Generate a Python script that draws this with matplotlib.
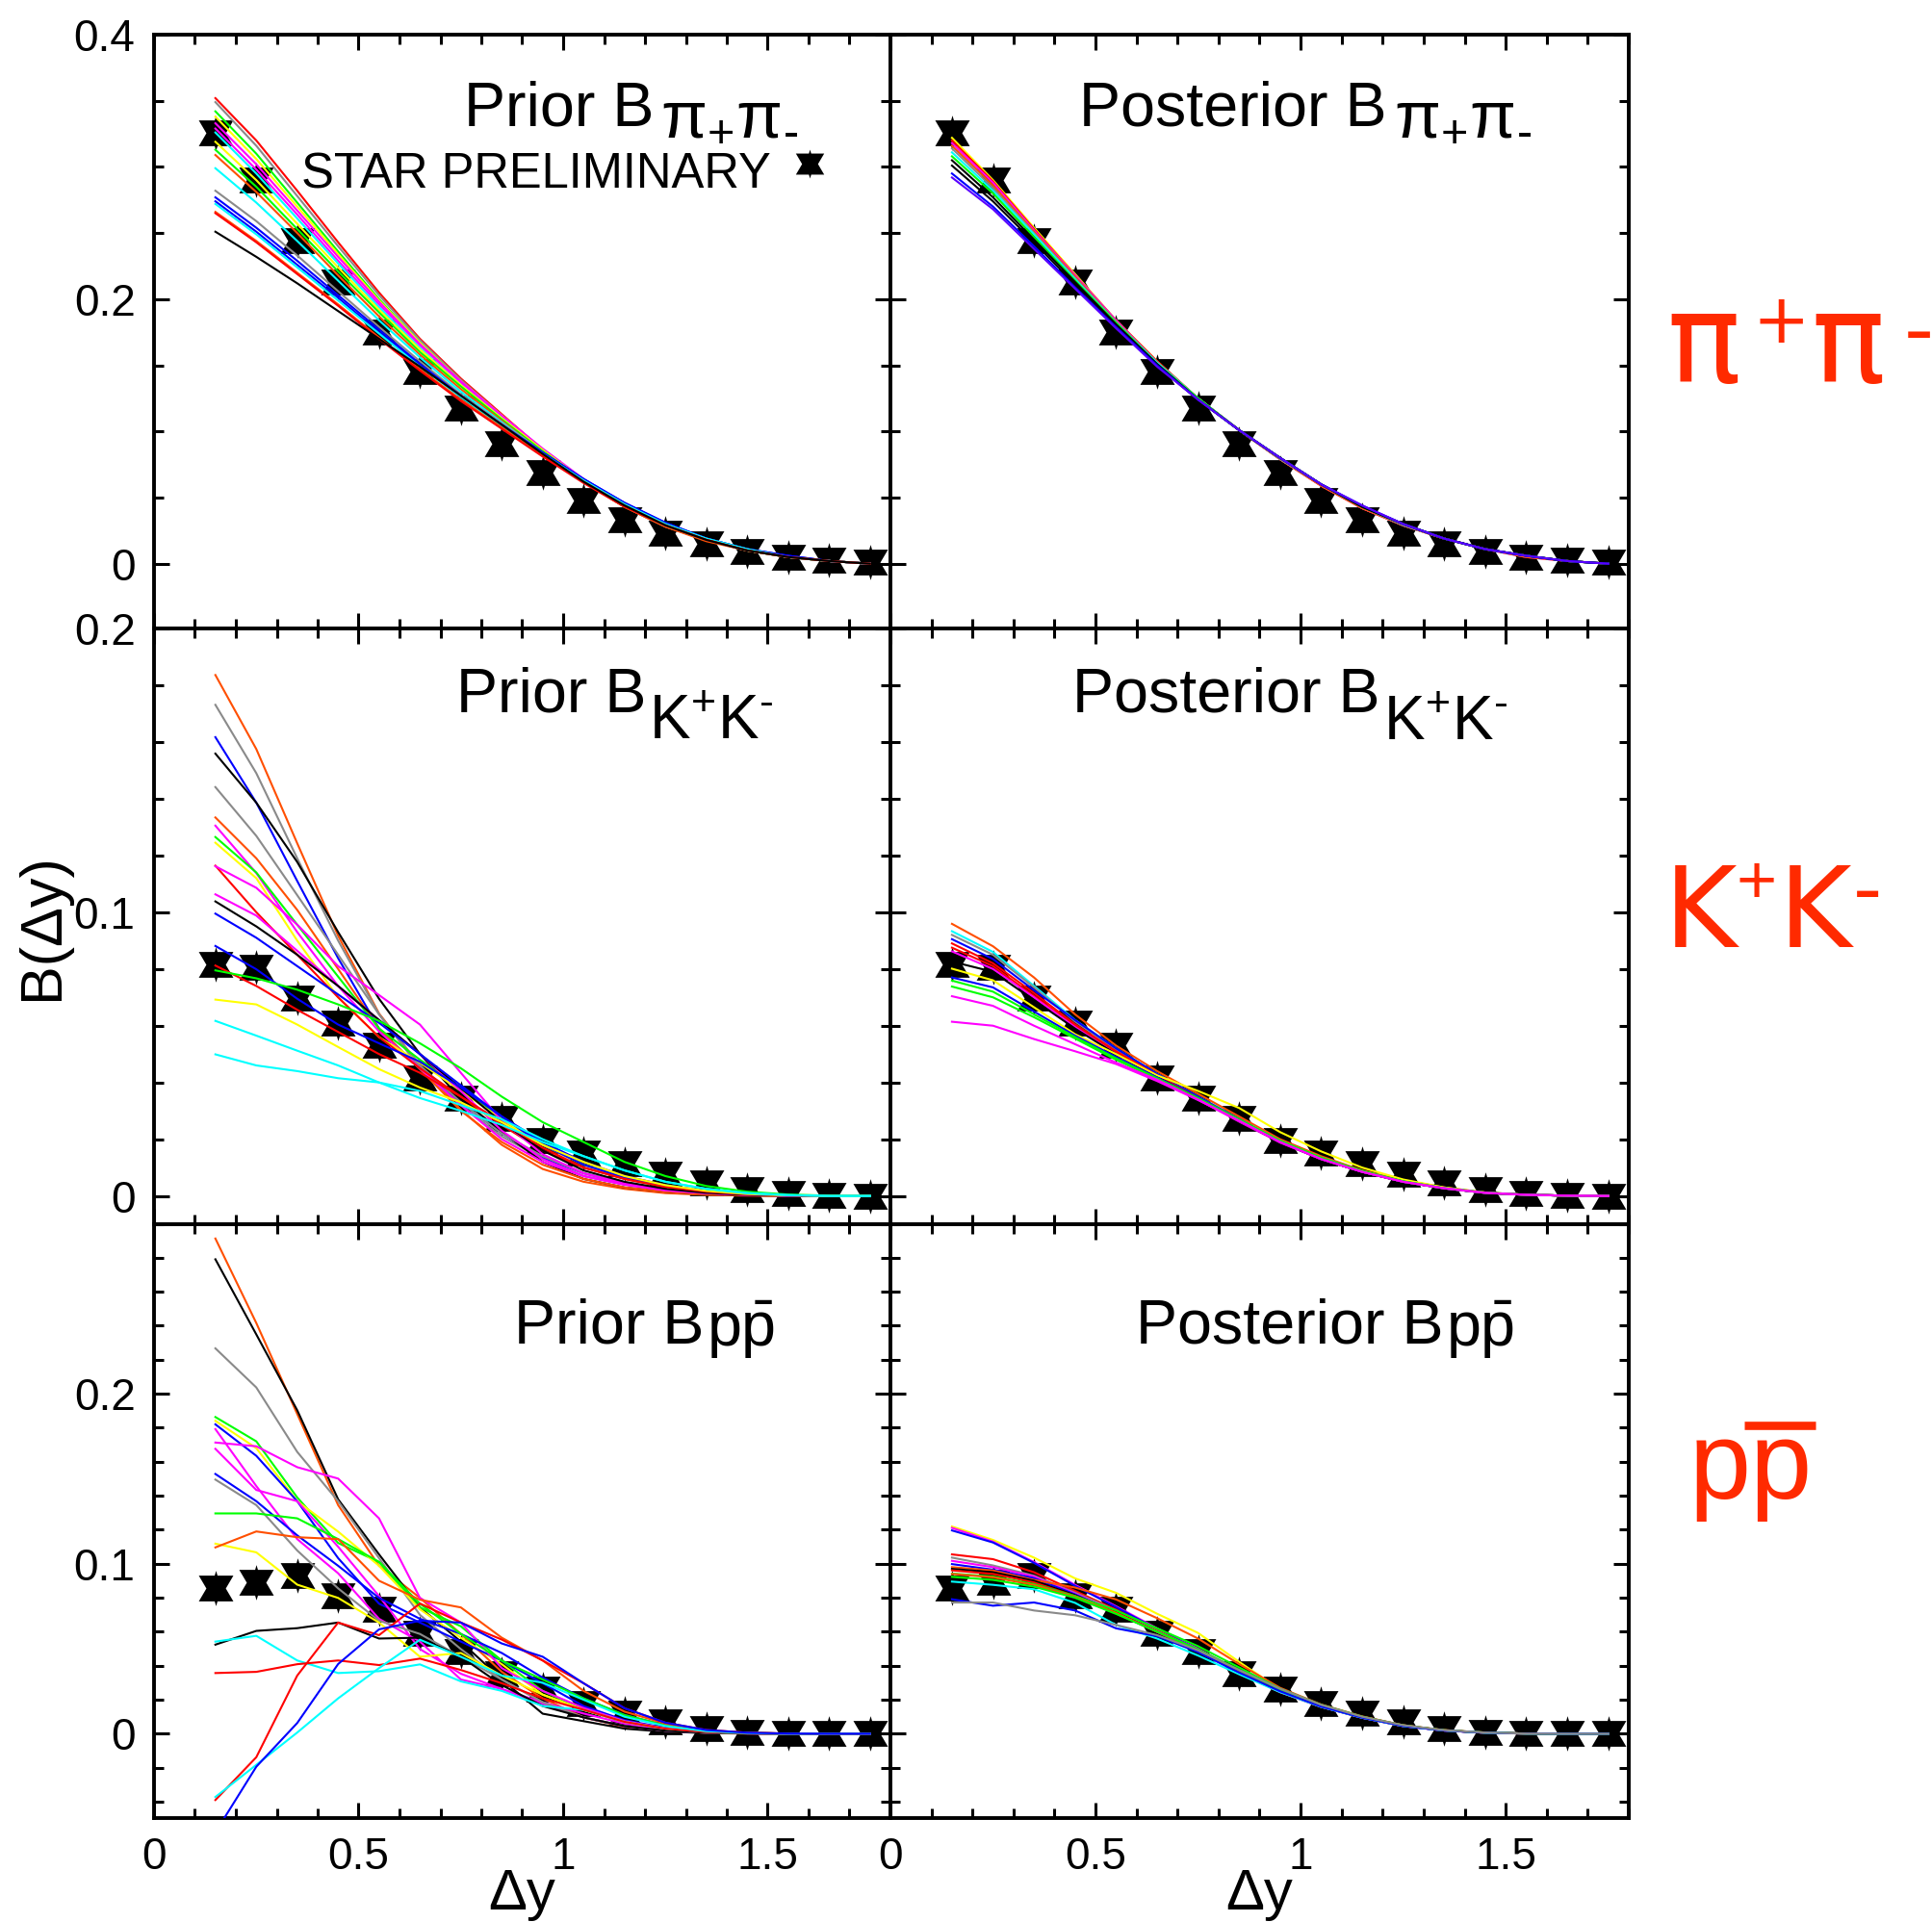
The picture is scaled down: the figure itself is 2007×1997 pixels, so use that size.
import numpy as np
import matplotlib
matplotlib.use("Agg")
import matplotlib.pyplot as plt
from matplotlib.lines import Line2D
from matplotlib.path import Path
from matplotlib.ticker import FixedLocator, FuncFormatter, MultipleLocator

# rapidity gaps at which the balance function is sampled
DY = [0.15, 0.25, 0.35, 0.45, 0.55, 0.65, 0.75, 0.85, 0.95,
      1.05, 1.15, 1.25, 1.35, 1.45, 1.55, 1.65, 1.75]

# STAR preliminary balance functions
STAR_PIPI = [0.326, 0.290, 0.244, 0.213, 0.175, 0.145, 0.118, 0.091, 0.069,
             0.048, 0.033, 0.023, 0.015, 0.009, 0.005, 0.003, 0.001]
STAR_KK = [0.0817, 0.0806, 0.0696, 0.0610, 0.0530, 0.0417, 0.0346, 0.0274, 0.0196,
           0.0153, 0.0114, 0.0077, 0.0046, 0.0024, 0.0010, 0.0003, 0.0]
STAR_PP = [0.0856, 0.0889, 0.0932, 0.0814, 0.0733, 0.0592, 0.0482, 0.0355, 0.0260,
           0.0178, 0.0120, 0.0070, 0.0032, 0.0008, 0.0002, 0.0, 0.0]

# model runs sampled from the prior
PIPI_PRIOR = [
    [0.352, 0.320, 0.282, 0.243, 0.205, 0.170, 0.140, 0.113, 0.086, 0.062, 0.043, 0.028, 0.018, 0.010, 0.005, 0.002, 0.0],
    [0.349, 0.316, 0.278, 0.240, 0.203, 0.169, 0.139, 0.112, 0.086, 0.062, 0.043, 0.028, 0.018, 0.010, 0.005, 0.002, 0.0],
    [0.342, 0.310, 0.273, 0.236, 0.200, 0.167, 0.138, 0.111, 0.085, 0.062, 0.043, 0.029, 0.018, 0.010, 0.005, 0.002, 0.0],
    [0.338, 0.306, 0.270, 0.234, 0.199, 0.167, 0.138, 0.112, 0.086, 0.063, 0.044, 0.029, 0.018, 0.010, 0.005, 0.002, 0.0],
    [0.333, 0.302, 0.267, 0.232, 0.198, 0.166, 0.138, 0.112, 0.087, 0.064, 0.044, 0.029, 0.018, 0.010, 0.005, 0.002, 0.0],
    [0.329, 0.298, 0.264, 0.229, 0.196, 0.165, 0.137, 0.111, 0.086, 0.063, 0.044, 0.029, 0.018, 0.010, 0.005, 0.002, 0.0],
    [0.326, 0.295, 0.261, 0.227, 0.194, 0.163, 0.135, 0.110, 0.085, 0.063, 0.044, 0.029, 0.018, 0.010, 0.005, 0.002, 0.0],
    [0.319, 0.290, 0.257, 0.224, 0.192, 0.162, 0.135, 0.110, 0.086, 0.063, 0.044, 0.029, 0.018, 0.010, 0.005, 0.002, 0.0],
    [0.313, 0.285, 0.253, 0.221, 0.190, 0.160, 0.134, 0.109, 0.085, 0.063, 0.044, 0.029, 0.018, 0.010, 0.005, 0.002, 0.0],
    [0.309, 0.281, 0.250, 0.218, 0.187, 0.158, 0.132, 0.108, 0.084, 0.062, 0.043, 0.028, 0.017, 0.010, 0.005, 0.002, 0.0],
    [0.299, 0.273, 0.244, 0.214, 0.184, 0.156, 0.130, 0.107, 0.084, 0.063, 0.044, 0.029, 0.018, 0.010, 0.005, 0.002, 0.0],
    [0.282, 0.259, 0.233, 0.206, 0.179, 0.153, 0.128, 0.106, 0.084, 0.063, 0.045, 0.030, 0.019, 0.011, 0.005, 0.002, 0.0],
    [0.277, 0.254, 0.229, 0.203, 0.177, 0.151, 0.127, 0.105, 0.084, 0.064, 0.046, 0.031, 0.019, 0.011, 0.006, 0.002, 0.0],
    [0.274, 0.251, 0.226, 0.201, 0.175, 0.150, 0.126, 0.105, 0.084, 0.064, 0.046, 0.031, 0.019, 0.011, 0.006, 0.002, 0.0],
    [0.272, 0.249, 0.224, 0.199, 0.174, 0.149, 0.126, 0.104, 0.083, 0.063, 0.045, 0.030, 0.019, 0.011, 0.005, 0.002, 0.0],
    [0.266, 0.244, 0.220, 0.196, 0.171, 0.147, 0.124, 0.103, 0.082, 0.062, 0.044, 0.029, 0.018, 0.010, 0.005, 0.002, 0.0],
    [0.265, 0.243, 0.219, 0.195, 0.170, 0.146, 0.123, 0.102, 0.081, 0.061, 0.043, 0.029, 0.018, 0.010, 0.005, 0.002, 0.0],
    [0.251, 0.232, 0.212, 0.191, 0.170, 0.149, 0.127, 0.105, 0.083, 0.062, 0.044, 0.029, 0.018, 0.010, 0.005, 0.002, 0.0],
]
PIPI_PRIOR_COLORS = ["red", "gray", "green", "yellow", "magenta", "magenta", "cyan", "yellow", "green",
                     "orange", "cyan", "gray", "blue", "blue", "cyan", "orange", "red", "black"]

PIPI_POST = [
    [0.322, 0.290, 0.254, 0.219, 0.184, 0.153, 0.125, 0.101, 0.079, 0.059, 0.042, 0.029, 0.019, 0.011, 0.006, 0.002, 0.0],
    [0.320, 0.289, 0.253, 0.218, 0.184, 0.153, 0.125, 0.101, 0.079, 0.059, 0.042, 0.029, 0.019, 0.011, 0.006, 0.002, 0.0],
    [0.318, 0.288, 0.252, 0.218, 0.184, 0.152, 0.125, 0.101, 0.079, 0.059, 0.042, 0.029, 0.019, 0.011, 0.005, 0.002, 0.0],
    [0.316, 0.286, 0.251, 0.217, 0.183, 0.152, 0.125, 0.101, 0.079, 0.059, 0.042, 0.029, 0.019, 0.011, 0.005, 0.002, 0.0],
    [0.314, 0.284, 0.250, 0.216, 0.183, 0.152, 0.125, 0.101, 0.079, 0.060, 0.043, 0.029, 0.019, 0.011, 0.006, 0.002, 0.0],
    [0.311, 0.282, 0.249, 0.215, 0.182, 0.152, 0.125, 0.101, 0.080, 0.060, 0.043, 0.030, 0.019, 0.011, 0.006, 0.002, 0.0],
    [0.308, 0.280, 0.247, 0.214, 0.182, 0.151, 0.125, 0.101, 0.080, 0.060, 0.043, 0.030, 0.019, 0.011, 0.006, 0.002, 0.0],
    [0.305, 0.277, 0.245, 0.213, 0.181, 0.151, 0.124, 0.101, 0.080, 0.060, 0.043, 0.030, 0.019, 0.011, 0.006, 0.002, 0.0],
    [0.301, 0.274, 0.243, 0.211, 0.180, 0.150, 0.124, 0.101, 0.080, 0.060, 0.043, 0.030, 0.019, 0.011, 0.006, 0.002, 0.0],
    [0.295, 0.270, 0.240, 0.209, 0.179, 0.150, 0.124, 0.101, 0.080, 0.060, 0.044, 0.030, 0.019, 0.011, 0.006, 0.002, 0.0],
    [0.292, 0.268, 0.238, 0.208, 0.178, 0.149, 0.124, 0.101, 0.080, 0.060, 0.044, 0.030, 0.019, 0.011, 0.006, 0.002, 0.0],
]
PIPI_POST_COLORS = ["yellow", "red", "magenta", "orange", "gray", "cyan", "green", "black", "black",
                    "blue", "purple"]

KK_PRIOR = [
    [0.1836, 0.1575, 0.1243, 0.0917, 0.0643, 0.0460, 0.0304, 0.0180, 0.0095, 0.0050, 0.0025, 0.0010, 0.0004, 0.0001, 0.0, 0.0, 0.0],
    [0.1731, 0.1490, 0.1190, 0.0900, 0.0640, 0.0450, 0.0320, 0.0210, 0.0130, 0.0070, 0.0040, 0.0020, 0.0010, 0.0004, 0.0001, 0.0, 0.0],
    [0.1617, 0.1386, 0.1110, 0.0838, 0.0590, 0.0447, 0.0330, 0.0220, 0.0135, 0.0080, 0.0045, 0.0022, 0.0010, 0.0004, 0.0001, 0.0, 0.0],
    [0.1559, 0.1386, 0.1177, 0.0930, 0.0695, 0.0500, 0.0343, 0.0226, 0.0120, 0.0060, 0.0030, 0.0015, 0.0006, 0.0002, 0.0, 0.0, 0.0],
    [0.1441, 0.1269, 0.1060, 0.0850, 0.0640, 0.0460, 0.0330, 0.0220, 0.0140, 0.0080, 0.0045, 0.0022, 0.0010, 0.0004, 0.0001, 0.0, 0.0],
    [0.1334, 0.1190, 0.1008, 0.0800, 0.0590, 0.0447, 0.0300, 0.0190, 0.0110, 0.0060, 0.0030, 0.0015, 0.0006, 0.0002, 0.0, 0.0, 0.0],
    [0.1305, 0.1138, 0.0930, 0.0740, 0.0580, 0.0450, 0.0320, 0.0200, 0.0120, 0.0070, 0.0040, 0.0020, 0.0010, 0.0004, 0.0001, 0.0, 0.0],
    [0.1265, 0.1140, 0.0956, 0.0773, 0.0590, 0.0480, 0.0380, 0.0270, 0.0180, 0.0110, 0.0065, 0.0035, 0.0016, 0.0006, 0.0002, 0.0, 0.0],
    [0.1245, 0.1120, 0.0900, 0.0700, 0.0560, 0.0470, 0.0370, 0.0270, 0.0180, 0.0110, 0.0065, 0.0035, 0.0016, 0.0006, 0.0002, 0.0, 0.0],
    [0.1164, 0.1000, 0.0850, 0.0700, 0.0560, 0.0450, 0.0350, 0.0250, 0.0160, 0.0100, 0.0060, 0.0032, 0.0015, 0.0006, 0.0002, 0.0, 0.0],
    [0.1162, 0.1086, 0.0956, 0.0810, 0.0708, 0.0604, 0.0434, 0.0265, 0.0147, 0.0080, 0.0045, 0.0022, 0.0010, 0.0004, 0.0001, 0.0, 0.0],
    [0.1063, 0.0988, 0.0864, 0.0740, 0.0620, 0.0500, 0.0370, 0.0230, 0.0130, 0.0070, 0.0040, 0.0020, 0.0010, 0.0004, 0.0001, 0.0, 0.0],
    [0.1038, 0.0950, 0.0850, 0.0740, 0.0620, 0.0500, 0.0380, 0.0260, 0.0160, 0.0090, 0.0050, 0.0025, 0.0011, 0.0004, 0.0001, 0.0, 0.0],
    [0.0995, 0.0910, 0.0810, 0.0710, 0.0610, 0.0500, 0.0390, 0.0280, 0.0180, 0.0110, 0.0065, 0.0035, 0.0016, 0.0006, 0.0002, 0.0, 0.0],
    [0.0881, 0.0799, 0.0695, 0.0604, 0.0538, 0.0473, 0.0382, 0.0280, 0.0190, 0.0120, 0.0070, 0.0038, 0.0018, 0.0007, 0.0002, 0.0, 0.0],
    [0.0812, 0.0740, 0.0656, 0.0578, 0.0500, 0.0434, 0.0350, 0.0260, 0.0170, 0.0100, 0.0060, 0.0032, 0.0015, 0.0006, 0.0002, 0.0, 0.0],
    [0.0795, 0.0767, 0.0727, 0.0675, 0.0617, 0.0538, 0.0450, 0.0350, 0.0260, 0.0190, 0.0120, 0.0070, 0.0035, 0.0015, 0.0005, 0.0001, 0.0],
    [0.0692, 0.0675, 0.0604, 0.0525, 0.0447, 0.0382, 0.0330, 0.0260, 0.0180, 0.0120, 0.0070, 0.0038, 0.0018, 0.0007, 0.0002, 0.0, 0.0],
    [0.0617, 0.0565, 0.0512, 0.0460, 0.0400, 0.0345, 0.0300, 0.0250, 0.0190, 0.0140, 0.0090, 0.0050, 0.0025, 0.0010, 0.0003, 0.0, 0.0],
    [0.0499, 0.0460, 0.0440, 0.0415, 0.0400, 0.0370, 0.0320, 0.0270, 0.0200, 0.0140, 0.0090, 0.0050, 0.0025, 0.0010, 0.0003, 0.0, 0.0],
]
KK_PRIOR_COLORS = ["orange", "gray", "blue", "black", "gray", "orange", "magenta", "green", "yellow",
                   "red", "magenta", "magenta", "black", "blue", "blue", "red", "green", "yellow",
                   "cyan", "cyan"]

KK_POST = [
    [0.0959, 0.0880, 0.0770, 0.0640, 0.0530, 0.0440, 0.0360, 0.0280, 0.0200, 0.0140, 0.0090, 0.0055, 0.0030, 0.0012, 0.0004, 0.0001, 0.0],
    [0.0933, 0.0860, 0.0740, 0.0620, 0.0520, 0.0430, 0.0350, 0.0270, 0.0190, 0.0130, 0.0085, 0.0050, 0.0027, 0.0011, 0.0004, 0.0001, 0.0],
    [0.0920, 0.0850, 0.0735, 0.0615, 0.0515, 0.0430, 0.0350, 0.0272, 0.0195, 0.0135, 0.0088, 0.0052, 0.0028, 0.0012, 0.0004, 0.0001, 0.0],
    [0.0905, 0.0835, 0.0725, 0.0620, 0.0520, 0.0430, 0.0350, 0.0270, 0.0190, 0.0130, 0.0085, 0.0050, 0.0027, 0.0011, 0.0004, 0.0001, 0.0],
    [0.0890, 0.0820, 0.0715, 0.0605, 0.0510, 0.0425, 0.0345, 0.0268, 0.0192, 0.0132, 0.0086, 0.0051, 0.0027, 0.0011, 0.0004, 0.0001, 0.0],
    [0.0875, 0.0810, 0.0705, 0.0600, 0.0505, 0.0420, 0.0342, 0.0265, 0.0190, 0.0130, 0.0085, 0.0050, 0.0027, 0.0011, 0.0004, 0.0001, 0.0],
    [0.0862, 0.0800, 0.0700, 0.0595, 0.0500, 0.0418, 0.0340, 0.0262, 0.0188, 0.0130, 0.0085, 0.0050, 0.0027, 0.0011, 0.0004, 0.0001, 0.0],
    [0.0826, 0.0790, 0.0690, 0.0590, 0.0500, 0.0420, 0.0342, 0.0265, 0.0190, 0.0130, 0.0085, 0.0050, 0.0027, 0.0011, 0.0004, 0.0001, 0.0],
    [0.0801, 0.0760, 0.0665, 0.0570, 0.0500, 0.0425, 0.0370, 0.0310, 0.0225, 0.0157, 0.0100, 0.0058, 0.0030, 0.0012, 0.0004, 0.0001, 0.0],
    [0.0770, 0.0735, 0.0650, 0.0565, 0.0490, 0.0418, 0.0345, 0.0268, 0.0192, 0.0132, 0.0086, 0.0051, 0.0027, 0.0011, 0.0004, 0.0001, 0.0],
    [0.0759, 0.0720, 0.0640, 0.0560, 0.0485, 0.0415, 0.0345, 0.0270, 0.0195, 0.0135, 0.0088, 0.0052, 0.0028, 0.0012, 0.0004, 0.0001, 0.0],
    [0.0738, 0.0700, 0.0630, 0.0555, 0.0480, 0.0412, 0.0342, 0.0268, 0.0193, 0.0133, 0.0087, 0.0051, 0.0027, 0.0011, 0.0004, 0.0001, 0.0],
    [0.0704, 0.0670, 0.0600, 0.0535, 0.0470, 0.0410, 0.0340, 0.0265, 0.0190, 0.0130, 0.0085, 0.0050, 0.0027, 0.0011, 0.0004, 0.0001, 0.0],
    [0.0614, 0.0600, 0.0553, 0.0510, 0.0465, 0.0405, 0.0338, 0.0265, 0.0190, 0.0130, 0.0085, 0.0050, 0.0027, 0.0011, 0.0004, 0.0001, 0.0],
]
KK_POST_COLORS = ["orange", "cyan", "gray", "blue", "red", "red", "magenta", "black", "yellow",
                  "blue", "green", "green", "magenta", "magenta"]

PP_PRIOR = [
    [0.2913, 0.2416, 0.1881, 0.1345, 0.0988, 0.0799, 0.0587, 0.0364, 0.0208, 0.0096, 0.0040, 0.0015, 0.0005, 0.0001, 0.0, 0.0, 0.0],
    [0.2791, 0.2349, 0.1903, 0.1379, 0.1055, 0.0743, 0.0542, 0.0319, 0.0118, 0.0074, 0.0030, 0.0012, 0.0004, 0.0001, 0.0, 0.0, 0.0],
    [0.2267, 0.2037, 0.1658, 0.1368, 0.1033, 0.0699, 0.0498, 0.0319, 0.0185, 0.0096, 0.0045, 0.0018, 0.0006, 0.0002, 0.0, 0.0, 0.0],
    [0.1863, 0.1720, 0.1390, 0.1122, 0.1010, 0.0743, 0.0632, 0.0430, 0.0252, 0.0140, 0.0070, 0.0030, 0.0010, 0.0003, 0.0, 0.0, 0.0],
    [0.1841, 0.1680, 0.1368, 0.1189, 0.0988, 0.0732, 0.0565, 0.0409, 0.0230, 0.0140, 0.0070, 0.0030, 0.0010, 0.0003, 0.0, 0.0, 0.0],
    [0.1820, 0.1635, 0.1368, 0.1033, 0.0765, 0.0654, 0.0542, 0.0430, 0.0297, 0.0163, 0.0080, 0.0035, 0.0012, 0.0003, 0.0, 0.0, 0.0],
    [0.1792, 0.1457, 0.1145, 0.0944, 0.0676, 0.0542, 0.0319, 0.0263, 0.0174, 0.0096, 0.0045, 0.0018, 0.0006, 0.0002, 0.0, 0.0, 0.0],
    [0.1713, 0.1691, 0.1568, 0.1501, 0.1267, 0.0799, 0.0654, 0.0386, 0.0252, 0.0152, 0.0075, 0.0032, 0.0011, 0.0003, 0.0, 0.0, 0.0],
    [0.1676, 0.1434, 0.1368, 0.1100, 0.0810, 0.0498, 0.0353, 0.0263, 0.0185, 0.0119, 0.0060, 0.0025, 0.0009, 0.0002, 0.0, 0.0, 0.0],
    [0.1528, 0.1368, 0.1167, 0.0988, 0.0799, 0.0676, 0.0587, 0.0475, 0.0330, 0.0208, 0.0110, 0.0050, 0.0018, 0.0005, 0.0001, 0.0, 0.0],
    [0.1495, 0.1345, 0.1078, 0.0855, 0.0665, 0.0587, 0.0453, 0.0319, 0.0185, 0.0096, 0.0045, 0.0018, 0.0006, 0.0002, 0.0, 0.0, 0.0],
    [0.1296, 0.1296, 0.1267, 0.1145, 0.1011, 0.0765, 0.0587, 0.0430, 0.0319, 0.0208, 0.0110, 0.0050, 0.0018, 0.0005, 0.0001, 0.0, 0.0],
    [0.1118, 0.1067, 0.0877, 0.0799, 0.0654, 0.0453, 0.0475, 0.0342, 0.0230, 0.0140, 0.0070, 0.0030, 0.0010, 0.0003, 0.0, 0.0, 0.0],
    [0.1096, 0.1190, 0.1156, 0.1145, 0.0900, 0.0788, 0.0743, 0.0565, 0.0431, 0.0252, 0.0130, 0.0060, 0.0020, 0.0006, 0.0001, 0.0, 0.0],
    [0.0524, 0.0605, 0.0621, 0.0654, 0.0560, 0.0565, 0.0453, 0.0286, 0.0163, 0.0096, 0.0045, 0.0018, 0.0006, 0.0002, 0.0, 0.0, 0.0],
    [0.0542, 0.0576, 0.0431, 0.0357, 0.0368, 0.0408, 0.0308, 0.0252, 0.0163, 0.0140, 0.0070, 0.0030, 0.0010, 0.0003, 0.0, 0.0, 0.0],
    [0.0357, 0.0364, 0.0409, 0.0431, 0.0404, 0.0442, 0.0375, 0.0297, 0.0208, 0.0141, 0.0070, 0.0030, 0.0010, 0.0003, 0.0, 0.0, 0.0],
    [-0.0390, -0.0138, 0.0342, 0.0654, 0.0580, 0.0766, 0.0654, 0.0554, 0.0431, 0.0297, 0.0150, 0.0065, 0.0022, 0.0006, 0.0001, 0.0, 0.0],
    [-0.0372, -0.0183, 0.0007, 0.0208, 0.0386, 0.0553, 0.0453, 0.0342, 0.0300, 0.0200, 0.0100, 0.0045, 0.0015, 0.0004, 0.0, 0.0, 0.0],
    [-0.0580, -0.0194, 0.0063, 0.0410, 0.0614, 0.0665, 0.0654, 0.0531, 0.0453, 0.0297, 0.0150, 0.0065, 0.0022, 0.0006, 0.0001, 0.0, 0.0],
]
PP_PRIOR_COLORS = ["orange", "black", "gray", "green", "yellow", "blue", "magenta", "magenta", "magenta",
                   "blue", "gray", "green", "yellow", "orange", "black", "cyan", "red", "red",
                   "cyan", "blue"]

PP_POST = [
    [0.1219, 0.1140, 0.1036, 0.0914, 0.0829, 0.0706, 0.0593, 0.0423, 0.0260, 0.0165, 0.0098, 0.0048, 0.0020, 0.0006, 0.0001, 0.0, 0.0],
    [0.1211, 0.1130, 0.1010, 0.0876, 0.0750, 0.0620, 0.0500, 0.0370, 0.0250, 0.0160, 0.0095, 0.0046, 0.0019, 0.0006, 0.0001, 0.0, 0.0],
    [0.1196, 0.1125, 0.1005, 0.0870, 0.0745, 0.0615, 0.0495, 0.0365, 0.0250, 0.0160, 0.0095, 0.0046, 0.0019, 0.0006, 0.0001, 0.0, 0.0],
    [0.1055, 0.1027, 0.0950, 0.0840, 0.0730, 0.0610, 0.0490, 0.0360, 0.0245, 0.0158, 0.0094, 0.0045, 0.0019, 0.0006, 0.0001, 0.0, 0.0],
    [0.1036, 0.0990, 0.0930, 0.0830, 0.0725, 0.0605, 0.0495, 0.0375, 0.0262, 0.0170, 0.0100, 0.0050, 0.0021, 0.0007, 0.0001, 0.0, 0.0],
    [0.1017, 0.0980, 0.0925, 0.0825, 0.0715, 0.0600, 0.0485, 0.0360, 0.0245, 0.0158, 0.0094, 0.0045, 0.0019, 0.0006, 0.0001, 0.0, 0.0],
    [0.0998, 0.0965, 0.0915, 0.0820, 0.0710, 0.0600, 0.0485, 0.0360, 0.0248, 0.0160, 0.0095, 0.0046, 0.0019, 0.0006, 0.0001, 0.0, 0.0],
    [0.0980, 0.0960, 0.0905, 0.0860, 0.0790, 0.0680, 0.0560, 0.0410, 0.0270, 0.0172, 0.0102, 0.0050, 0.0021, 0.0007, 0.0001, 0.0, 0.0],
    [0.0970, 0.0950, 0.0900, 0.0815, 0.0715, 0.0600, 0.0490, 0.0365, 0.0252, 0.0162, 0.0096, 0.0047, 0.0020, 0.0006, 0.0001, 0.0, 0.0],
    [0.0961, 0.0940, 0.0890, 0.0810, 0.0712, 0.0600, 0.0490, 0.0368, 0.0255, 0.0164, 0.0097, 0.0047, 0.0020, 0.0006, 0.0001, 0.0, 0.0],
    [0.0942, 0.0925, 0.0880, 0.0810, 0.0725, 0.0620, 0.0515, 0.0390, 0.0265, 0.0170, 0.0100, 0.0049, 0.0020, 0.0007, 0.0001, 0.0, 0.0],
    [0.0940, 0.0920, 0.0875, 0.0805, 0.0710, 0.0600, 0.0490, 0.0370, 0.0258, 0.0166, 0.0098, 0.0048, 0.0020, 0.0006, 0.0001, 0.0, 0.0],
    [0.0923, 0.0905, 0.0865, 0.0800, 0.0705, 0.0600, 0.0495, 0.0375, 0.0260, 0.0168, 0.0099, 0.0048, 0.0020, 0.0006, 0.0001, 0.0, 0.0],
    [0.0895, 0.0876, 0.0850, 0.0770, 0.0640, 0.0560, 0.0460, 0.0350, 0.0245, 0.0158, 0.0094, 0.0045, 0.0019, 0.0006, 0.0001, 0.0, 0.0],
    [0.0791, 0.0753, 0.0772, 0.0725, 0.0620, 0.0574, 0.0480, 0.0360, 0.0250, 0.0160, 0.0095, 0.0046, 0.0019, 0.0006, 0.0001, 0.0, 0.0],
    [0.0772, 0.0772, 0.0725, 0.0697, 0.0640, 0.0580, 0.0490, 0.0375, 0.0265, 0.0170, 0.0100, 0.0050, 0.0021, 0.0007, 0.0001, 0.0, 0.0],
]
PP_POST_COLORS = ["yellow", "magenta", "blue", "red", "gray", "magenta", "blue", "orange", "black",
                  "red", "green", "orange", "green", "cyan", "blue", "gray"]

PALETTE = {
    "red": "#ff0000", "orange": "#ff4f00", "black": "#000000", "gray": "#8a8a8a",
    "blue": "#0000ff", "cyan": "#00ffff", "green": "#00ff00", "yellow": "#ffff00",
    "magenta": "#ff00ff", "purple": "#5a00ff",
}
LABEL_RED = "#ff2a00"

# figure geometry in pixels
W_PX, H_PX, DPI = 2008, 1997, 100
COLS = [(160, 925), (925, 1692)]
ROWS = [(36, 653), (653, 1271.5), (1271.5, 1889)]


def fx(px):
    return px / W_PX


def fy(py):
    return 1 - py / H_PX


# six-pointed star marker: flat top and bottom with small spikes
_star = [(0, 1), (0.08, 0.73), (0.98, 0.73), (0.55, 0), (0.98, -0.73), (0.08, -0.73),
         (0, -1), (-0.08, -0.73), (-0.98, -0.73), (-0.55, 0), (-0.98, 0.73), (-0.08, 0.73)]
STAR_MARKER = Path(_star + [(0, 0)], [Path.MOVETO] + [Path.LINETO] * (len(_star) - 1) + [Path.CLOSEPOLY])

plt.rcParams["font.family"] = ["Liberation Sans", "DejaVu Sans"]
plt.rcParams["mathtext.fontset"] = "custom"
plt.rcParams["mathtext.rm"] = "Liberation Sans"
plt.rcParams["mathtext.it"] = "Liberation Sans:italic"
plt.rcParams["mathtext.bf"] = "Liberation Sans:bold"
plt.rcParams["mathtext.default"] = "regular"

TICK_FS = 33
HYPHEN = "\u00ad"
fmt = FuncFormatter(lambda v, pos: "%g" % round(v, 6))

row_setup = [
    (STAR_PIPI, PIPI_PRIOR, PIPI_PRIOR_COLORS, PIPI_POST, PIPI_POST_COLORS, (-0.049, 0.4), [0, 0.2, 0.4], 0.05),
    (STAR_KK, KK_PRIOR, KK_PRIOR_COLORS, KK_POST, KK_POST_COLORS, (-0.0098, 0.2), [0, 0.1, 0.2], 0.02),
    (STAR_PP, PP_PRIOR, PP_PRIOR_COLORS, PP_POST, PP_POST_COLORS, (-0.0496, 0.3), [0, 0.1, 0.2], 0.02),
]

fig = plt.figure(figsize=(W_PX / DPI, H_PX / DPI), dpi=DPI)

for r, (top, bot) in enumerate(ROWS):
    star, prior, prior_c, post, post_c, ylim, yticks, yminor = row_setup[r]
    for c, (left, right) in enumerate(COLS):
        ax = fig.add_axes([fx(left), fy(bot), (right - left) / W_PX, (bot - top) / H_PX])
        curves, colors = (prior, prior_c) if c == 0 else (post, post_c)
        ax.plot(DY, star, ls="none", marker=STAR_MARKER, ms=26.4, color="black",
                markeredgewidth=0, zorder=2)
        for vals, col in zip(curves, colors):
            ax.plot(DY, vals, color=PALETTE[col], lw=1.5, zorder=3)

        ax.set_xlim(0, 1.8)
        ax.set_ylim(*ylim)
        ax.xaxis.set_major_locator(FixedLocator([0, 0.5, 1.0, 1.5]))
        ax.xaxis.set_minor_locator(MultipleLocator(0.1))
        ax.yaxis.set_major_locator(FixedLocator(yticks))
        ax.yaxis.set_minor_locator(MultipleLocator(yminor))
        ax.xaxis.set_major_formatter(fmt)
        ax.yaxis.set_major_formatter(fmt)
        ax.tick_params(which="both", direction="in", top=True, right=True,
                       labelsize=TICK_FS, width=2.2, pad=14)
        ax.tick_params(which="major", length=11.5)
        ax.tick_params(which="minor", length=7)
        ax.tick_params(axis="x", labelbottom=(r == 2))
        ax.tick_params(axis="y", labelleft=(c == 0))
        for sp in ax.spines.values():
            sp.set_linewidth(2.8)
        if r == 0 and c == 0:
            legend_ax = ax

# panel titles: main part right-aligned on the B, species part set lower on the left
TITLE_FS = 46.5
pi_sub = "π$_{+}$π$_{" + HYPHEN + "}$"
k_sub = "K$^{+}$K$^{" + HYPHEN + "}$"
p_sub = r"p$\bar{\mathrm{p}}$"
titles = [
    ("Prior B", 679, 130, pi_sub, 50, 686, 139),
    ("Posterior B", 1440.5, 130, pi_sub, 50, 1448, 139),
    ("Prior B", 671.5, 739, k_sub, 46, 674, 768),
    ("Posterior B", 1434, 740, k_sub, 46, 1437, 769),
    ("Prior B", 731, 1396, p_sub, TITLE_FS, 734, 1399),
    ("Posterior B", 1499.5, 1396, p_sub, TITLE_FS, 1502, 1399),
]
for main, mx, my, sub, sfs, sx, sy in titles:
    fig.text(fx(mx), fy(my), main, fontsize=TITLE_FS, ha="right", va="baseline")
    fig.text(fx(sx), fy(sy), sub, fontsize=sfs, ha="left", va="baseline")

fig.text(fx(313), fy(196), "STAR PRELIMINARY", fontsize=36.5, ha="left", va="baseline")
legend_ax.plot([fx(841)], [fy(170)], transform=fig.transFigure, clip_on=False, ls="none",
               marker=STAR_MARKER, ms=21.6, color="black", markeredgewidth=0)

# axis titles
fig.text(fx(44), fy(963), "B(Δy)", fontsize=44, rotation=90, ha="center", va="center")
for left, right in COLS:
    fig.text(fx((left + right) / 2), fy(1984), "Δy", fontsize=43, ha="center", va="baseline")


# species labels on the right, built glyph by glyph
def red_piece(x, y, s, size, va="baseline", ha="center", family="DejaVu Sans"):
    fig.text(fx(x), fy(y), s, fontsize=size, color=LABEL_RED, family=[family],
             ha=ha, va=va)


red_piece(1769.5, 397, "π", 92)
red_piece(1850, 336.5, "+", 51, va="center")
red_piece(1920, 397, "π", 92)
red_piece(1993, 347.5, "-", 62, va="center")

red_piece(1767, 984, "K", 83)
red_piece(1825, 919, "+", 52, va="center", family="Liberation Sans")
red_piece(1885.5, 984, "K", 83)
red_piece(1940, 929, "-", 60, va="center")

red_piece(1755, 1557, "pp", 83, ha="left", family="Liberation Sans")
fig.add_artist(Line2D([fx(1812), fx(1886)], [fy(1481), fy(1481)], transform=fig.transFigure,
                      color=LABEL_RED, lw=6.2, solid_capstyle="butt"))

fig.savefig("out.png", dpi=DPI)
